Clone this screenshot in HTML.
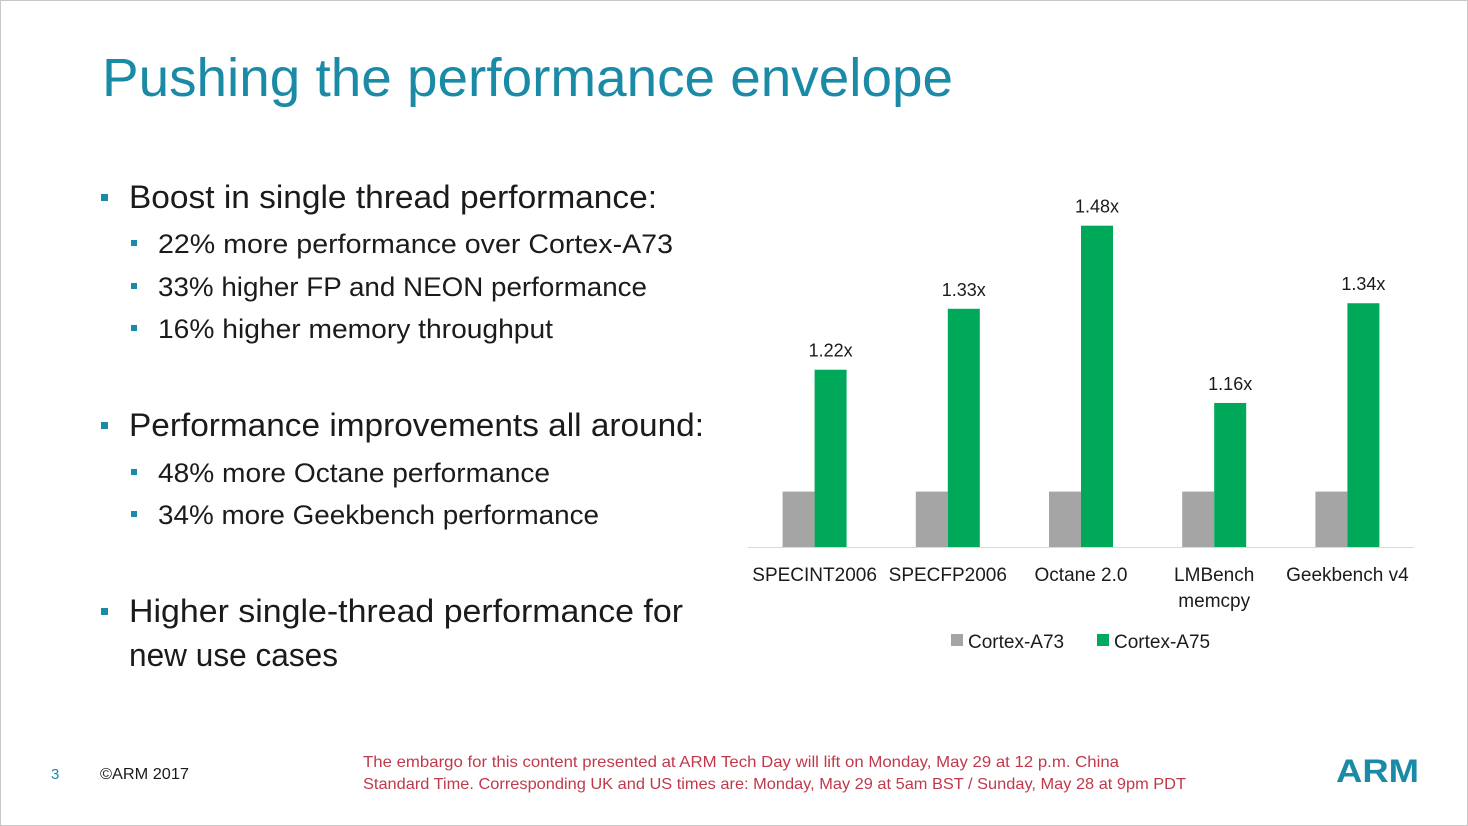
<!DOCTYPE html>
<html><head><meta charset="utf-8"><style>
html,body{margin:0;padding:0;background:#fff;}
svg{display:block;font-family:"Liberation Sans",sans-serif;}
</style></head><body>
<svg id="s" width="1468" height="826" viewBox="0 0 1468 826">
<rect x="0.5" y="0.5" width="1467" height="825" fill="#fff" stroke="#c8c8c8"/>
<text x="102" y="96" font-size="54" fill="#1b8aa6" textLength="851" lengthAdjust="spacingAndGlyphs">Pushing the performance envelope</text>
<g fill="#1b1b1b">
<rect x="101" y="194" width="7" height="7" fill="#1b8aa6"/>
<text x="129" y="208" font-size="32" textLength="528" lengthAdjust="spacingAndGlyphs">Boost in single thread performance:</text>
<rect x="131" y="240" width="6" height="6" fill="#1b8aa6"/>
<text x="158" y="253" font-size="27" textLength="515" lengthAdjust="spacingAndGlyphs">22% more performance over Cortex-A73</text>
<rect x="131" y="283" width="6" height="6" fill="#1b8aa6"/>
<text x="158" y="296" font-size="27" textLength="489" lengthAdjust="spacingAndGlyphs">33% higher FP and NEON performance</text>
<rect x="131" y="325" width="6" height="6" fill="#1b8aa6"/>
<text x="158" y="338" font-size="27" textLength="395" lengthAdjust="spacingAndGlyphs">16% higher memory throughput</text>
<rect x="101" y="422" width="7" height="7" fill="#1b8aa6"/>
<text x="129" y="436" font-size="32" textLength="575" lengthAdjust="spacingAndGlyphs">Performance improvements all around:</text>
<rect x="131" y="469" width="6" height="6" fill="#1b8aa6"/>
<text x="158" y="482" font-size="27" textLength="392" lengthAdjust="spacingAndGlyphs">48% more Octane performance</text>
<rect x="131" y="511" width="6" height="6" fill="#1b8aa6"/>
<text x="158" y="524" font-size="27" textLength="441" lengthAdjust="spacingAndGlyphs">34% more Geekbench performance</text>
<rect x="101" y="608" width="7" height="7" fill="#1b8aa6"/>
<text x="129" y="622" font-size="32" textLength="554" lengthAdjust="spacingAndGlyphs">Higher single-thread performance for</text>
<text x="129" y="666" font-size="32" textLength="209" lengthAdjust="spacingAndGlyphs">new use cases</text>
</g>
<g id="chart"></g>
<text x="51" y="779" font-size="15" fill="#1b8aa6">3</text>
<text x="100" y="779" font-size="16" fill="#1b1b1b" textLength="89" lengthAdjust="spacingAndGlyphs">©ARM 2017</text>
<text x="363" y="767" font-size="16" fill="#c0394b" textLength="756" lengthAdjust="spacingAndGlyphs">The embargo for this content presented at ARM Tech Day will lift on Monday, May 29 at 12 p.m. China</text>
<text x="363" y="789" font-size="16" fill="#c0394b" textLength="823" lengthAdjust="spacingAndGlyphs">Standard Time. Corresponding UK and US times are: Monday, May 29 at 5am BST / Sunday, May 28 at 9pm PDT</text>
<text x="1336" y="782" font-size="32" font-weight="bold" fill="#1b8aa6" textLength="83" lengthAdjust="spacingAndGlyphs">ARM</text>
</svg>
<script>
const categories = ["SPECINT2006","SPECFP2006","Octane 2.0","LMBench|memcpy","Geekbench v4"];
const a73Values = [1,1,1,1,1];
const a75Values = [1.22,1.33,1.48,1.16,1.34];
const valueLabels = ["1.22x","1.33x","1.48x","1.16x","1.34x"];
const NS="http://www.w3.org/2000/svg";
const g=document.getElementById('chart');
const x0=748,x1=1414,base=547,vmin=0.9,pxPer=554,bw=32;
const band=(x1-x0)/categories.length;
const xc=i=>x0+band*(i+0.5);
const y=v=>base-(v-vmin)*pxPer;
function mk(t,a){const e=document.createElementNS(NS,t);for(const k in a)e.setAttribute(k,a[k]);g.appendChild(e);return e;}
let ax=mk('line',{x1:x0,x2:x1,y1:base+0.5,y2:base+0.5,stroke:'#d9d9d9','stroke-width':1});


categories.forEach((c,i)=>{
  const cx=xc(i);
  let r1=mk('rect',{x:cx-bw,y:y(a73Values[i]),width:bw,height:base-y(a73Values[i]),fill:'#a5a5a5'});
  
  
  let r2=mk('rect',{x:cx,y:y(a75Values[i]),width:bw,height:base-y(a75Values[i]),fill:'#00a859'});
  
  
  let l=mk('text',{x:cx+bw/2,y:y(a75Values[i])-13,'text-anchor':'middle','font-size':18,fill:'#1b1b1b'});
  l.textContent=valueLabels[i];
  
  
  c.split('|').forEach((p,j)=>{
    let t=mk('text',{x:cx,y:581+j*26,'text-anchor':'middle','font-size':19,fill:'#1b1b1b'});
    t.textContent=p;
    
    
  });
});
[["Cortex-A73","#a5a5a5",951],["Cortex-A75","#00a859",1097]].forEach((d,i)=>{
  let r=mk('rect',{x:d[2],y:634,width:12,height:12,fill:d[1]});
  
  
  let t=mk('text',{x:d[2]+17,y:648,'font-size':19,fill:'#1b1b1b'});
  t.textContent=d[0];
  
  
});
</script>
</body></html>
